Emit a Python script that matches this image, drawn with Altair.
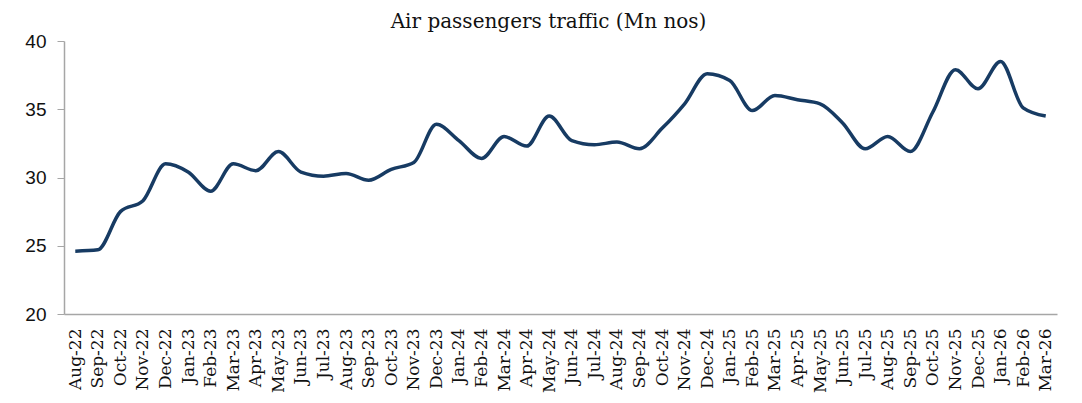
import altair as alt
import pandas as pd

months = ["Aug-22", "Sep-22", "Oct-22", "Nov-22", "Dec-22",
          "Jan-23", "Feb-23", "Mar-23", "Apr-23", "May-23", "Jun-23",
          "Jul-23", "Aug-23", "Sep-23", "Oct-23", "Nov-23", "Dec-23",
          "Jan-24", "Feb-24", "Mar-24", "Apr-24", "May-24", "Jun-24",
          "Jul-24", "Aug-24", "Sep-24", "Oct-24", "Nov-24", "Dec-24",
          "Jan-25", "Feb-25", "Mar-25", "Apr-25", "May-25", "Jun-25",
          "Jul-25", "Aug-25", "Sep-25", "Oct-25", "Nov-25", "Dec-25",
          "Jan-26", "Feb-26", "Mar-26"]

passengers = [24.6, 24.7, 27.5, 28.3, 31.0,
              30.4, 29.0, 31.0, 30.5, 31.9, 30.4,
              30.1, 30.3, 29.8, 30.6, 31.1, 33.9,
              32.7, 31.4, 33.0, 32.3, 34.5, 32.7,
              32.4, 32.6, 32.1, 33.6, 35.4, 37.6,
              37.1, 34.9, 36.0, 35.7, 35.4, 34.0,
              32.1, 33.0, 31.9, 34.8, 37.9, 36.5,
              38.5, 35.1, 34.5]

y_ticks = [20, 25, 30, 35, 40]

df = pd.DataFrame({"Month": months, "Traffic": passengers})

chart = (
    alt.Chart(df)
    .mark_line(color="#173B63", strokeWidth=3.5, interpolate="monotone")
    .encode(
        x=alt.X(
            "Month:O",
            sort=None,
            scale=alt.Scale(type="point", padding=0.5),
            axis=alt.Axis(
                title=None,
                labelAngle=-90,
                labelFont="DejaVu Serif",
                labelFontSize=17,
                labelColor="#111111",
                labelPadding=14,
                ticks=False,
                domainColor="#A6A6A6",
                domainWidth=1.5,
                labelOverlap=False,
            ),
        ),
        y=alt.Y(
            "Traffic:Q",
            scale=alt.Scale(domain=[20, 40], nice=False, zero=False),
            axis=alt.Axis(
                title=None,
                values=y_ticks,
                grid=False,
                labelFont="Liberation Sans",
                labelFontSize=19,
                labelColor="#111111",
                labelPadding=11,
                tickSize=7,
                tickColor="#A6A6A6",
                domainColor="#A6A6A6",
                domainWidth=1.5,
            ),
        ),
    )
    .properties(
        width=993,
        height=273,
        title=alt.TitleParams(
            "Air passengers traffic (Mn nos)",
            font="DejaVu Serif",
            fontSize=20,
            fontWeight="normal",
            color="#111111",
            anchor="middle",
            offset=0,
            dx=-12,
        ),
        autosize=alt.AutoSizeParams(type="none"),
        padding={"left": 56, "top": 33, "right": 10, "bottom": 95},
    )
    .configure_view(stroke=None)
)

chart.save("out.html", embed_options={"renderer": "svg", "actions": False})
